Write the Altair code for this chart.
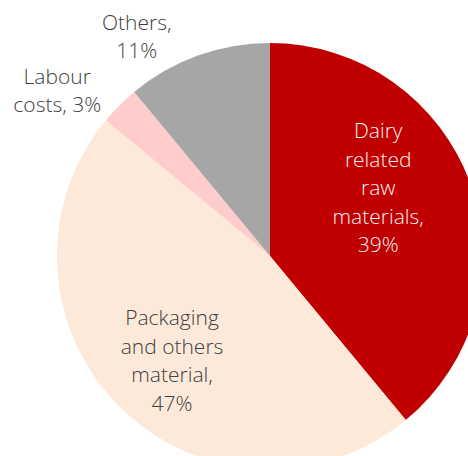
import altair as alt
import pandas as pd

categories = ["Dairy related raw materials", "Packaging and others material", "Labour costs", "Others"]
labels = ["Dairy\nrelated\nraw\nmaterials,\n39%",
          "Packaging\nand others\nmaterial,\n47%",
          "Labour\ncosts, 3%",
          "Others,\n11%"]
shares = [39, 47, 3, 11]
colors = ["#C00000", "#FDE9D9", "#FFCCCC", "#A6A6A6"]
text_colors = ["#F2F2F2", "#404040", "#404040", "#404040"]

df = pd.DataFrame({
    "category": categories,
    "label": labels,
    "share": shares,
    "idx": list(range(len(categories))),
})

CX, CY, R = 270, 256, 213
LH = 28.5
theta_scale = alt.Scale(domain=[0, 100])

base = alt.Chart(df)

pie = base.mark_arc(x=CX, y=CY, radius=R, stroke=None).encode(
    theta=alt.Theta("share:Q", stack=True, scale=theta_scale),
    color=alt.Color("category:N", scale=alt.Scale(domain=categories, range=colors), legend=None),
    order=alt.Order("idx:Q"),
)

text_base = base.transform_window(
    cum="sum(share)", sort=[alt.SortField("idx")], frame=[None, 0]
).transform_calculate(mid="datum.cum - datum.share / 2")

# (radius, dx, dy) per label, dy for the block centre
placements = [(115, 0, -28), (140, 1, 7), (233, -48, 1), (234, -54, 2)]

layers = [pie]
for i, (r, dx, dy) in enumerate(placements):
    n_lines = labels[i].count("\n") + 1
    layers.append(
        text_base.transform_filter(alt.datum.idx == i).mark_text(
            x=CX, y=CY, radius=r, dx=dx, dy=dy - (n_lines - 1) / 2 * LH,
            font="Open Sans", fontWeight=300, fontSize=21, lineHeight=LH,
            lineBreak="\n", align="center", baseline="middle",
            color=text_colors[i],
        ).encode(
            theta=alt.Theta("mid:Q", stack=None, scale=theta_scale),
            text="label:N",
        )
    )

chart = alt.layer(*layers).properties(
    width=468, height=456, padding=0,
    autosize=alt.AutoSizeParams(type="none"),
).configure_view(stroke=None)

chart.save("out.html", embed_options={"renderer": "svg", "actions": False})
